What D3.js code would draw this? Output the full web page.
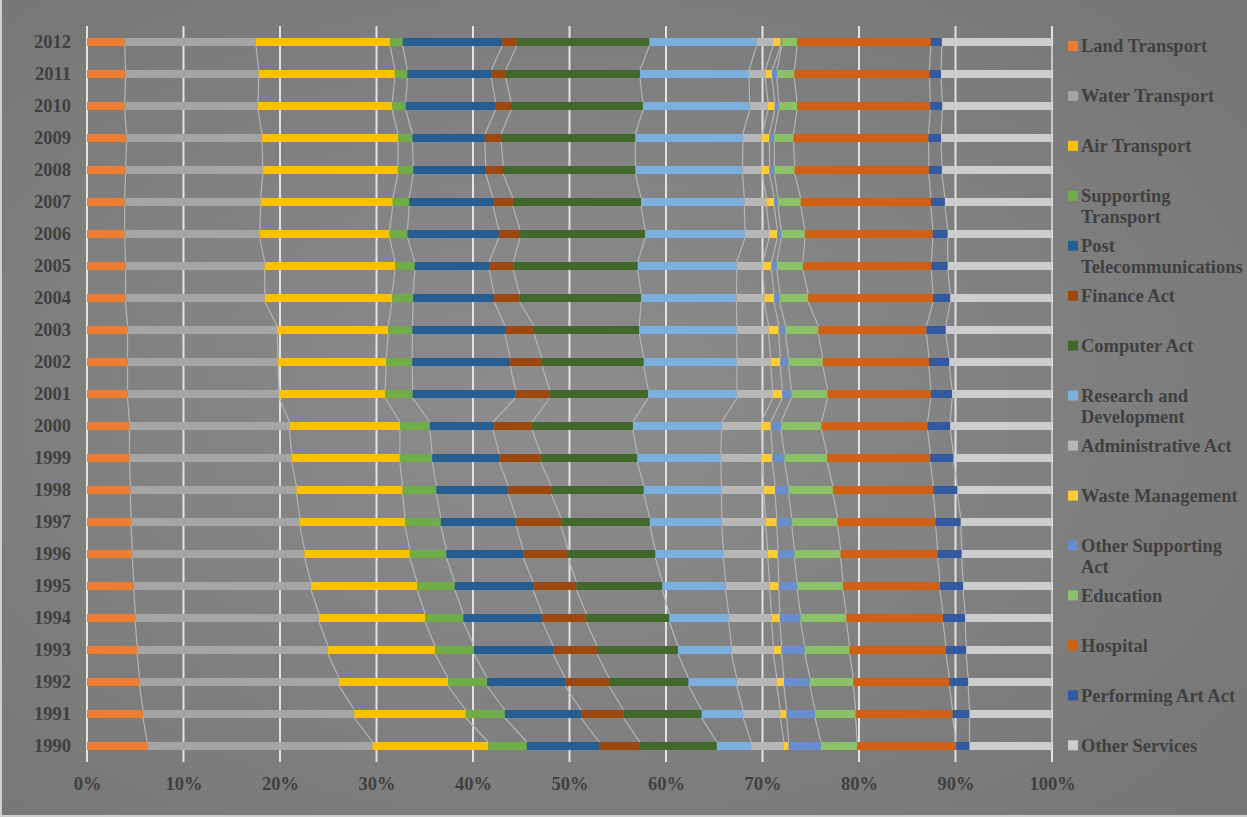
<!DOCTYPE html>
<html>
<head>
<meta charset="utf-8">
<script src="https://cdn.jsdelivr.net/npm/d3@7"></script>
<style>
  html, body { margin: 0; padding: 0; background: #7f7f7f; }
  svg { display: block; }
  text { font-family: "Liberation Serif", "Times New Roman", serif; font-weight: bold; fill: #404040; }
</style>
</head>
<body>
<svg id="chart" width="1247" height="817"></svg>
<script>
// Years shown on the category axis (bottom row 1990, top row 2012)
const years = [1990,1991,1992,1993,1994,1995,1996,1997,1998,1999,2000,2001,2002,2003,2004,2005,2006,2007,2008,2009,2010,2011,2012];

// Series names, in stacking order
const seriesNames = ["Land Transport","Water Transport","Air Transport","Supporting Transport","Post Telecommunications","Finance Act","Computer Act","Research and Development","Administrative Act","Waste Management","Other Supporting Act","Education","Hospital","Performing Art Act","Other Services"];

// Shares (%) per series, one value per year 1990..2012
const landTransport   = [6.25,5.8,5.45,5.2,5.0,4.85,4.7,4.55,4.5,4.4,4.4,4.2,4.2,4.2,4.0,4.0,3.9,3.9,4.0,4.1,3.9,4.0,3.9];
const waterTransport  = [23.35,21.9,20.7,19.8,19.05,18.35,17.85,17.5,17.2,16.8,16.6,15.7,15.6,15.5,14.45,14.4,14.0,14.1,14.2,14.05,13.8,13.8,13.6];
const airTransport    = [12.0,11.55,11.3,11.1,11.0,11.0,10.9,10.9,11.0,11.2,11.45,11.0,11.2,11.5,13.2,13.5,13.45,13.7,14.0,14.1,13.9,14.1,13.9];
const supportingTransport = [4.0,4.05,4.05,4.05,3.95,3.9,3.8,3.7,3.5,3.35,3.1,2.85,2.7,2.5,2.2,2.05,1.85,1.7,1.6,1.5,1.4,1.3,1.3];
const postTelecom     = [7.5,7.9,8.1,8.2,8.2,8.1,7.95,7.8,7.45,6.95,6.55,10.65,10.15,9.6,8.4,7.7,9.45,8.7,7.5,7.5,9.3,8.7,10.3];
const financeAct      = [4.2,4.4,4.55,4.55,4.55,4.5,4.65,4.65,4.45,4.3,4.05,3.55,3.3,3.0,2.65,2.5,2.2,2.05,1.8,1.7,1.6,1.5,1.5];
const computerAct     = [8.0,8.1,8.25,8.4,8.6,8.9,9.05,9.2,9.6,10.0,10.45,10.2,10.55,10.9,12.6,12.9,12.95,13.3,13.7,13.9,13.65,13.9,13.75];
const researchDev     = [3.55,4.3,5.0,5.55,6.15,6.55,7.05,7.45,8.05,8.65,9.2,9.2,9.65,10.1,9.9,10.25,10.35,10.7,11.1,11.15,11.05,11.3,11.1];
const administrative  = [3.4,3.85,4.15,4.35,4.45,4.55,4.6,4.55,4.4,4.25,4.1,3.7,3.5,3.3,2.9,2.7,2.5,2.3,2.0,2.0,1.9,1.7,1.7];
const wasteManagement = [0.5,0.65,0.75,0.85,0.85,0.95,1.05,1.15,1.15,1.1,1.0,1.0,1.0,1.05,1.0,0.9,0.85,0.8,0.8,0.75,0.7,0.7,0.8];
const otherSupporting = [3.35,2.95,2.7,2.4,2.15,1.9,1.7,1.55,1.4,1.25,1.05,0.95,0.85,0.7,0.6,0.55,0.4,0.4,0.5,0.5,0.4,0.5,0.1];
const education       = [3.75,4.2,4.5,4.65,4.75,4.75,4.8,4.75,4.6,4.4,4.2,3.75,3.55,3.4,2.95,2.7,2.45,2.35,2.1,2.0,1.9,1.8,1.6];
const hospital        = [10.25,10.05,9.95,10.0,10.0,10.05,10.05,10.15,10.4,10.7,11.0,10.7,11.0,11.2,12.95,13.3,13.25,13.5,13.9,14.0,13.8,14.0,13.85];
const performingArt   = [1.4,1.75,1.95,2.1,2.3,2.4,2.5,2.6,2.5,2.4,2.35,2.2,2.1,2.0,1.8,1.7,1.55,1.45,1.35,1.3,1.25,1.2,1.15];
const otherServices   = [8.55,8.55,8.7,8.9,9.0,9.2,9.35,9.45,9.8,10.2,10.55,10.35,10.65,11.0,10.55,10.8,10.8,11.1,11.4,11.5,11.35,11.5,11.4];

// Percent tick labels on the value axis
const xTicks = [0,0.1,0.2,0.3,0.4,0.5,0.6,0.7,0.8,0.9,1.0];

const seriesValues = [landTransport, waterTransport, airTransport, supportingTransport, postTelecom,
  financeAct, computerAct, researchDev, administrative, wasteManagement, otherSupporting,
  education, hospital, performingArt, otherServices];

const colors = ["#ED7D31","#A5A5A5","#FFC000","#70AD47","#255E91","#9E480E","#43682B","#7CAFDD",
  "#B7B7B7","#FFCD33","#698ED0","#8CC168","#D26012","#335AA1","#CDCDCD"];

const width = 1247, height = 817;
const svg = d3.select("#chart");

// Background with soft radial shading
const defs = svg.append("defs");
const grad = defs.append("radialGradient").attr("id", "bg")
  .attr("cx", "45%").attr("cy", "50%").attr("r", "70%");
grad.append("stop").attr("offset", "0%").attr("stop-color", "#8d8d8d");
grad.append("stop").attr("offset", "100%").attr("stop-color", "#767676");
svg.append("rect").attr("width", width).attr("height", height).attr("fill", "url(#bg)");
svg.append("rect").attr("x", 0).attr("y", 0).attr("width", 2).attr("height", height).attr("fill", "#cfcfcf");
svg.append("rect").attr("x", 0).attr("y", height - 2).attr("width", width).attr("height", 2).attr("fill", "#cfcfcf");

// Table of rows for the stack
const table = years.map((yr, i) => {
  const row = { year: yr };
  seriesNames.forEach((n, s) => { row[n] = seriesValues[s][i]; });
  return row;
});

const stack = d3.stack().keys(seriesNames).offset(d3.stackOffsetExpand);
const layers = stack(table);

const x = d3.scaleLinear().domain([0, 1]).range([87, 1052]);
const y = d3.scaleBand()
  .domain(years.slice().reverse())
  .range([26, 762])
  .paddingInner(0.75)
  .paddingOuter(0.375);

// Vertical gridlines
svg.append("g").selectAll("line").data(xTicks).join("line")
  .attr("x1", d => x(d)).attr("x2", d => x(d))
  .attr("y1", 26).attr("y2", 762)
  .attr("stroke", "#e2e2e2").attr("stroke-width", 2);

// Series lines joining each segment end between neighbouring bars
const topDown = years.slice().reverse();
const idx = yr => years.indexOf(yr);
const seriesLineG = svg.append("g");
layers.forEach(layer => {
  for (let k = 0; k < topDown.length - 1; k++) {
    const a = layer[idx(topDown[k])], b = layer[idx(topDown[k + 1])];
    seriesLineG.append("line")
      .attr("x1", x(a[1])).attr("y1", y(topDown[k]) + y.bandwidth())
      .attr("x2", x(b[1])).attr("y2", y(topDown[k + 1]))
      .attr("stroke", "#b5b5b5").attr("stroke-width", 1.2);
  }
});

// Bars
svg.append("g").selectAll("g").data(layers).join("g")
  .attr("fill", (d, i) => colors[i])
  .selectAll("rect").data(d => d).join("rect")
  .attr("x", d => x(d[0]))
  .attr("width", d => Math.max(0, x(d[1]) - x(d[0])))
  .attr("y", d => y(d.data.year))
  .attr("height", y.bandwidth());

// Category axis (years)
const yAxis = svg.append("g").attr("transform", "translate(87,0)")
  .call(d3.axisLeft(y).tickSize(0).tickPadding(16));
yAxis.select(".domain").remove();
yAxis.selectAll("text").attr("font-size", 18.5).attr("fill", "#404040")
  .style("font-family", '"Liberation Serif", "Times New Roman", serif').style("font-weight", "bold");

// Value axis (percent)
const xAxis = svg.append("g").attr("transform", "translate(0,762)")
  .call(d3.axisBottom(x).tickValues(xTicks).tickFormat(d3.format(".0%")).tickSize(0));
xAxis.select(".domain").remove();
xAxis.selectAll("text").attr("y", 28).attr("dy", 0).attr("font-size", 18.5).attr("fill", "#404040")
  .style("font-family", '"Liberation Serif", "Times New Roman", serif').style("font-weight", "bold");

// Legend
const legend = svg.append("g");
const maxLine = 166;
seriesNames.forEach((name, i) => {
  const cy = 46 + i * 49.95;
  const g = legend.append("g");
  g.append("rect").attr("x", 1068).attr("y", cy - 5).attr("width", 10).attr("height", 10).attr("fill", colors[i]);
  const t = g.append("text").attr("x", 1081).attr("y", cy).attr("dy", "0.35em").attr("font-size", 18.5);
  // wrap words to the legend column width
  const words = name.split(" ");
  let line = [], lineNo = 0;
  let tspan = t.append("tspan").attr("x", 1081).attr("dy", "0.35em");
  words.forEach(w => {
    line.push(w);
    tspan.text(line.join(" "));
    if (tspan.node().getComputedTextLength() > maxLine && line.length > 1) {
      line.pop();
      tspan.text(line.join(" "));
      line = [w];
      lineNo++;
      tspan = t.append("tspan").attr("x", 1081).attr("dy", "21px").text(w);
    }
  });
});
</script>
</body>
</html>
